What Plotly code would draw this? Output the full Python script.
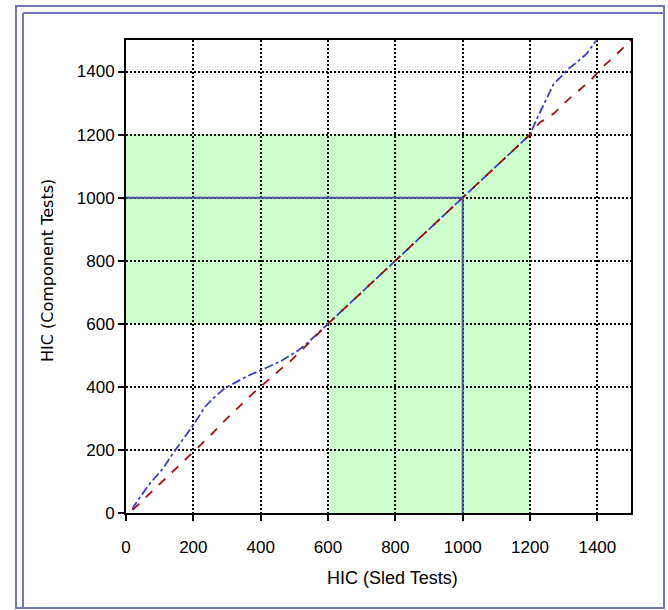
import plotly.graph_objects as go

# HIC values: sled tests (x) vs. component tests (y)
comp_x = [20, 22, 71, 106, 150, 200, 235, 259, 294, 324, 358, 403, 457, 507, 540,
          600, 700, 800, 900, 1000, 1100, 1200, 1220, 1245, 1270, 1300, 1310, 1339,
          1368, 1393, 1400]
comp_y = [10, 20, 94, 136, 205, 279, 337, 364, 396, 414, 433, 454, 480, 512, 540,
          600, 700, 800, 900, 1000, 1100, 1200, 1249, 1302, 1360, 1392, 1405, 1429,
          1456, 1493, 1500]

ref_x = [20, 71, 131, 170, 250, 300, 378, 457, 487, 530, 600, 800, 1000, 1200,
         1230, 1270, 1310, 1345, 1379, 1414, 1448, 1488, 1500]
ref_y = [10, 62, 126, 163, 245, 300, 380, 454, 480, 525, 600, 800, 1000, 1200,
         1239, 1266, 1308, 1340, 1371, 1413, 1445, 1487, 1500]

# shaded acceptance zones: (x0, x1, y0, y1)
zones = [(0, 600, 600, 1200), (600, 1200, 0, 1200)]

# HIC 1000 threshold
threshold = 1000

tick_vals = [0, 200, 400, 600, 800, 1000, 1200, 1400]
tick_text = ["0", "200", "400", "600", "800", "1000", "1200", "1400"]

W, H = 668, 610
ML, MR, MT, MB = 126, 37, 40, 97
PW, PH = W - ML - MR, H - MT - MB


def px(X):
    return (X - ML) / PW


def py(Y):
    return (H - MB - Y) / PH


fig = go.Figure()

fig.add_trace(go.Scatter(x=comp_x, y=comp_y, mode="lines",
                         line=dict(color="#3b3fc4", width=1.8, dash="dashdot"),
                         hoverinfo="x+y", showlegend=False))
fig.add_trace(go.Scatter(x=ref_x, y=ref_y, mode="lines",
                         line=dict(color="#a01010", width=1.8, dash="dash"),
                         hoverinfo="x+y", showlegend=False))

shapes = []
for x0, x1, y0, y1 in zones:
    shapes.append(dict(type="rect", xref="x", yref="y", x0=x0, x1=x1, y0=y0, y1=y1,
                       fillcolor="#ccffcc", line=dict(width=0), layer="below"))

# threshold guides
shapes.append(dict(type="line", xref="x", yref="y", x0=0, x1=threshold,
                   y0=threshold, y1=threshold, line=dict(color="#4c52a8", width=2)))
shapes.append(dict(type="line", xref="x", yref="y", x0=threshold, x1=threshold,
                   y0=0, y1=threshold, line=dict(color="#4c52a8", width=2)))

# page frame
frame = "#7276ba"
shapes.append(dict(type="rect", xref="paper", yref="paper",
                   x0=px(16), x1=px(664), y0=py(608), y1=py(6),
                   line=dict(color=frame, width=2)))
shapes.append(dict(type="line", xref="paper", yref="paper",
                   x0=px(23), x1=px(23), y0=py(608), y1=py(13),
                   line=dict(color=frame, width=2)))
shapes.append(dict(type="line", xref="paper", yref="paper",
                   x0=px(23), x1=px(664), y0=py(13), y1=py(13),
                   line=dict(color=frame, width=2)))

axis_common = dict(
    range=[0, 1500], tickvals=tick_vals, ticktext=tick_text,
    showline=True, linecolor="black", linewidth=2, mirror=True,
    ticks="outside", ticklen=6, tickwidth=2, tickcolor="black",
    showgrid=True, gridcolor="black", gridwidth=2, griddash="2px,2px",
    zeroline=False, tickfont=dict(family="Liberation Sans, Arial", size=17, color="black"),
    fixedrange=True,
)

fig.update_layout(
    width=W, height=H,
    margin=dict(l=ML, r=MR, t=MT, b=MB),
    paper_bgcolor="white", plot_bgcolor="white",
    shapes=shapes,
    xaxis=dict(**axis_common, ticklabelstandoff=12),
    yaxis=dict(**axis_common),
    annotations=[
        dict(text="HIC (Sled Tests)", xref="paper", yref="paper",
             x=px(392), y=py(578), xanchor="center", yanchor="middle",
             showarrow=False,
             font=dict(family="Liberation Sans, Arial", size=18, color="black")),
        dict(text="HIC (Component Tests)", xref="paper", yref="paper",
             x=px(47), y=py(271), xanchor="center", yanchor="middle",
             textangle=-90, showarrow=False,
             font=dict(family="DejaVu Sans", size=16, color="black")),
    ],
)

fig.write_html("out.html")
